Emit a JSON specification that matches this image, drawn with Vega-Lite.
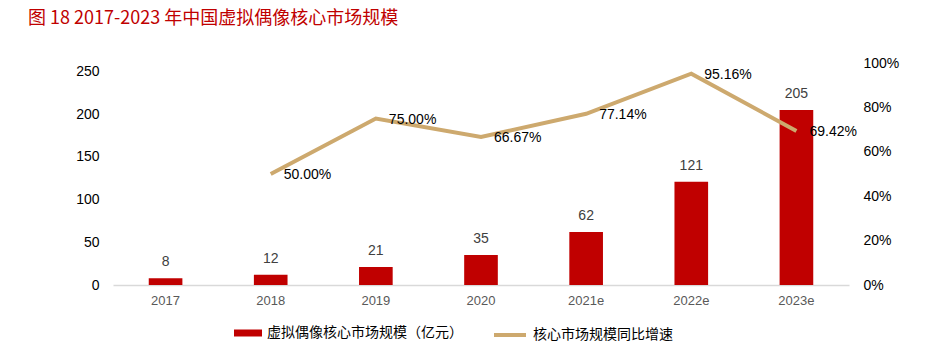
{
  "$schema": "https://vega.github.io/schema/vega-lite/v6.json",
  "width": 736,
  "height": 222,
  "autosize": {"type": "none"},
  "padding": {"left": 113, "top": 63, "right": 94, "bottom": 58},
  "background": "white",
  "title": {
    "text": "图 18 2017-2023 年中国虚拟偶像核心市场规模",
    "anchor": "start",
    "frame": "group",
    "color": "#C00000",
    "fontSize": 18,
    "font": "Noto Sans CJK SC",
    "fontWeight": "normal",
    "dx": -85,
    "offset": 28
  },
  "config": {
    "view": {"stroke": null},
    "axis": {"labelFont": "Liberation Sans", "grid": false, "ticks": false, "domain": false, "title": null}
  },
  "data": {
    "values": [
      {"year": "2017", "value": 8, "growth": null},
      {"year": "2018", "value": 12, "growth": 0.5},
      {"year": "2019", "value": 21, "growth": 0.75},
      {"year": "2020", "value": 35, "growth": 0.6667},
      {"year": "2021e", "value": 62, "growth": 0.7714},
      {"year": "2022e", "value": 121, "growth": 0.9516},
      {"year": "2023e", "value": 205, "growth": 0.6942}
    ]
  },
  "encoding": {
    "x": {
      "field": "year",
      "type": "ordinal",
      "sort": null,
      "scale": {"paddingInner": 0.68, "paddingOuter": 0.34},
      "axis": {"labelAngle": 0, "labelColor": "#595959", "labelFontSize": 13, "labelPadding": 9, "domain": true, "domainColor": "#D9D9D9", "domainWidth": 1.5}
    }
  },
  "layer": [
    {
      "layer": [
        {
          "mark": {"type": "bar", "color": "#C00000"},
          "encoding": {
            "y": {"field": "value", "type": "quantitative", "scale": {"domain": [0, 250]}, "axis": {"values": [0, 50, 100, 150, 200, 250], "labelFontSize": 14, "labelColor": "#000000", "labelPadding": 14}},
            "fill": {"datum": "虚拟偶像核心市场规模（亿元）", "scale": {"range": ["#C00000"]}, "legend": {"orient": "none", "legendX": 121, "legendY": 256, "title": null, "symbolType": "M-1,-0.25L1,-0.25L1,0.25L-1,0.25Z", "symbolSize": 784, "labelFont": "Noto Sans CJK SC", "labelFontSize": 14, "labelColor": "#000000", "labelLimit": 400, "labelOffset": 5, "symbolStrokeWidth": 0}}
          }
        },
        {
          "mark": {"type": "text", "baseline": "bottom", "dy": -9, "fontSize": 14, "font": "Liberation Sans", "color": "#404040"},
          "encoding": {
            "y": {"field": "value", "type": "quantitative"},
            "text": {"field": "value", "type": "quantitative"}
          }
        }
      ]
    },
    {
      "transform": [{"filter": "datum.growth != null"}],
      "layer": [
        {
          "mark": {"type": "line", "strokeWidth": 4, "color": "#CDA96E"},
          "encoding": {
            "y": {"field": "growth", "type": "quantitative", "scale": {"domain": [0, 1]}, "axis": {"orient": "right", "format": ".0%", "values": [0, 0.2, 0.4, 0.6, 0.8, 1], "labelFontSize": 14, "labelColor": "#000000", "labelPadding": 14}},
            "stroke": {"datum": "核心市场规模同比增速", "scale": {"range": ["#CDA96E"]}, "legend": {"orient": "none", "legendX": 379, "legendY": 254, "title": null, "symbolType": "stroke", "symbolSize": 1024, "symbolStrokeWidth": 4, "labelFont": "Noto Sans CJK SC", "labelFontSize": 14, "labelColor": "#000000", "labelLimit": 400, "labelOffset": 5}}
          }
        },
        {
          "mark": {"type": "text", "align": "left", "baseline": "middle", "dx": 13, "dy": 1, "fontSize": 14, "font": "Liberation Sans", "color": "#000000"},
          "encoding": {
            "y": {"field": "growth", "type": "quantitative"},
            "text": {"field": "growth", "type": "quantitative", "format": ".2%"}
          }
        }
      ]
    }
  ],
  "resolve": {"scale": {"y": "independent"}}
}
